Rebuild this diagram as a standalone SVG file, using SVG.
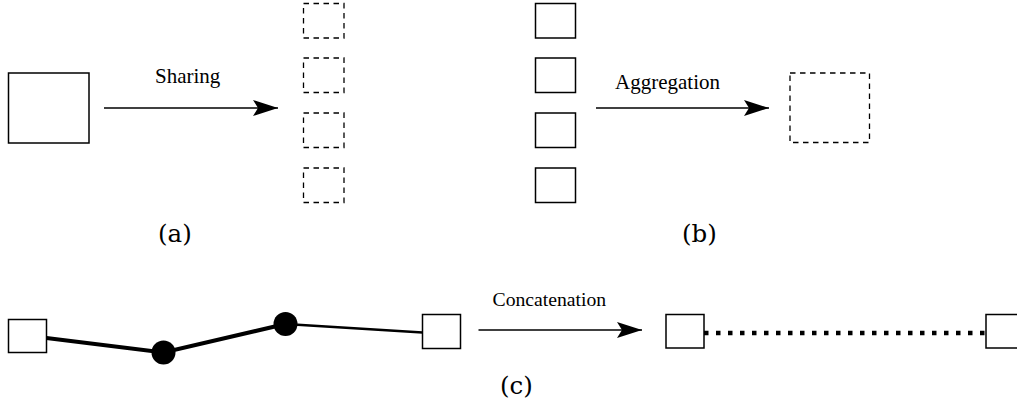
<svg xmlns="http://www.w3.org/2000/svg" width="1017" height="412" viewBox="0 0 1017 412">
  <style>
    .box { fill: #fff; stroke: #000; stroke-width: 1.5; }
    .dbox { fill: none; stroke: #000; stroke-width: 1.3; stroke-dasharray: 5.5 4.5; }
    .arrow { fill: none; stroke: #000; stroke-width: 1.5; }
    .lbl { font-family: "Liberation Serif", "Times New Roman", serif; fill: #000; }
    .cap { font-family: "DejaVu Serif", "Liberation Serif", serif; font-size: 24.5px; fill: #000; }
    .thick { fill: none; stroke: #000; stroke-width: 4; }
    .thin { fill: none; stroke: #000; stroke-width: 2.5; }
    .dotted { fill: none; stroke: #000; stroke-width: 4.3; stroke-dasharray: 4.5 7.5; }
  </style>
  <defs>
    <marker id="head" markerUnits="userSpaceOnUse" markerWidth="26" markerHeight="18" refX="25" refY="8" orient="auto">
      <path d="M25,8 L0,0 L5,8 L0,16 Z" fill="#000"/>
    </marker>
  </defs>

  <rect width="1017" height="412" fill="#fff"/>

  <!-- (a) sharing -->
  <g id="a-source"><rect class="box" x="8.5" y="73" width="80.5" height="70"/></g>
  <g id="a-part1"><rect class="dbox" x="303.5" y="3.5" width="40.5" height="34.5"/></g>
  <g id="a-part2"><rect class="dbox" x="303.5" y="58" width="40.5" height="34.5"/></g>
  <g id="a-part3"><rect class="dbox" x="303.5" y="113" width="40.5" height="34.5"/></g>
  <g id="a-part4"><rect class="dbox" x="303.5" y="168" width="40.5" height="34.5"/></g>
  <text class="lbl" x="155" y="83" font-size="21">Sharing</text>
  <text class="cap" x="158" y="242">(a)</text>

  <!-- (b) aggregation -->
  <g id="b-part1"><rect class="box" x="535.5" y="3.5" width="40" height="34.5"/></g>
  <g id="b-part2"><rect class="box" x="535.5" y="58" width="40" height="34.5"/></g>
  <g id="b-part3"><rect class="box" x="535.5" y="113" width="40" height="34.5"/></g>
  <g id="b-part4"><rect class="box" x="535.5" y="168" width="40" height="34.5"/></g>
  <g id="b-result"><rect class="dbox" x="790" y="73" width="79.5" height="69.5"/></g>
  <text class="lbl" x="615" y="89" font-size="21">Aggregation</text>
  <text class="cap" x="682" y="242">(b)</text>

  <!-- (c) concatenation -->
  <g id="c-left"><rect class="box" x="8.5" y="319.5" width="38" height="33"/></g>
  <g id="c-hop1"><circle cx="163.5" cy="352.5" r="12" fill="#000"/></g>
  <g id="c-hop2"><circle cx="285.5" cy="324" r="12" fill="#000"/></g>
  <g id="c-right"><rect class="box" x="422.5" y="314.5" width="38" height="34"/></g>
  <g id="c-out-left"><rect class="box" x="666" y="314.5" width="38" height="33.5"/></g>
  <g id="c-out-right"><rect class="box" x="986" y="314.5" width="38" height="33.5"/></g>
  <text class="lbl" x="492.5" y="306" font-size="19.7">Concatenation</text>
  <text class="cap" x="500" y="394">(c)</text>

  <g id="connectors">
    <line class="arrow" x1="104" y1="108" x2="278" y2="108" marker-end="url(#head)"/>
    <line class="arrow" x1="596" y1="108" x2="769" y2="108" marker-end="url(#head)"/>
    <line class="arrow" x1="478.5" y1="330" x2="642" y2="330" marker-end="url(#head)"/>
    <polyline class="thick" points="46.5,338 163.5,352.5 285.5,324"/>
    <line class="thin" x1="285.5" y1="324" x2="422.5" y2="332.5"/>
    <line class="dotted" x1="704" y1="333" x2="986" y2="333"/>
  </g>
</svg>
